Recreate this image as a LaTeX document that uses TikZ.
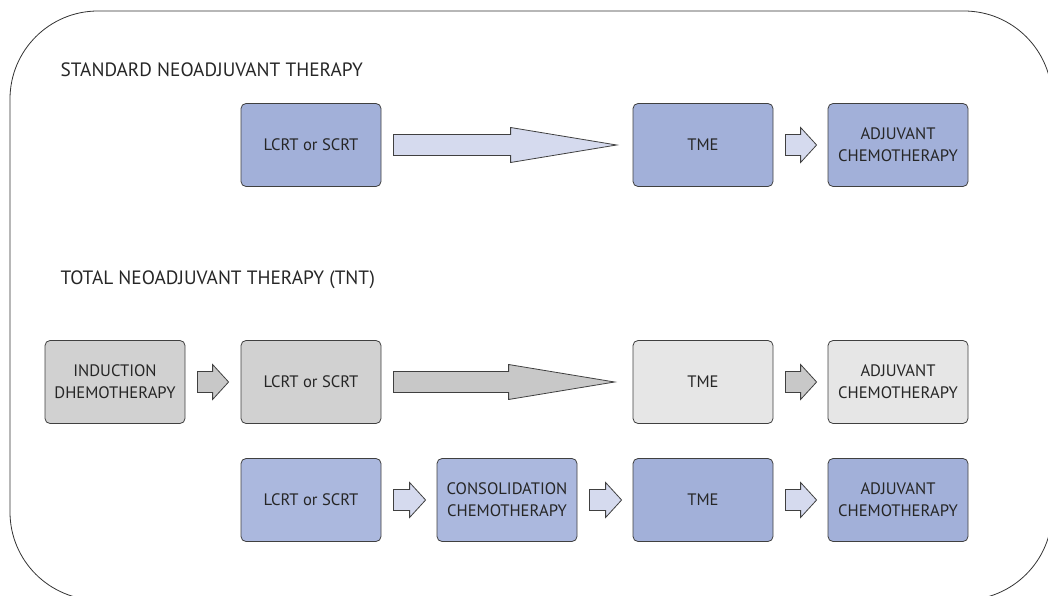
\documentclass[tikz,border=0pt]{standalone}
\usepackage{fontspec}
\setmainfont{PT Sans}
\usepackage{tikz}
\usetikzlibrary{positioning}
\usetikzlibrary{calc}

\definecolor{boxblue}{HTML}{A2B0D9}
\definecolor{boxbluelt}{HTML}{ABB8DE}
\definecolor{arrblue}{HTML}{D5DAEE}
\definecolor{boxgray}{HTML}{D1D1D1}
\definecolor{boxgraylt}{HTML}{E6E6E6}
\definecolor{arrgray}{HTML}{C8C8C8}

% block arrow: style, from node, to node, tip gap, head length
\newcommand{\blockarrow}[5]{%
  \draw[#1] ($(#2.east)+(12,-10.5)$) -- ($(#3.west)+(-#4-#5,-10.5)$) -- ++(0,-7)
    -- ($(#3.west)+(-#4,0)$) -- ($(#3.west)+(-#4-#5,17.5)$) -- ++(0,-7)
    -- ($(#2.east)+(12,10.5)$) -- cycle;
}

\begin{document}
\begin{tikzpicture}[x=1pt,y=-1pt,
  box/.style={draw=black!75,line width=0.8pt,rounded corners=5pt,
    minimum width=140pt,minimum height=83pt,inner sep=0pt,align=center,
    text=black!85,font=\fontsize{16.6}{22}\selectfont},
  title/.style={anchor=west,text=black!85,font=\fontsize{19.3}{22}\selectfont},
  arr/.style={draw=black!75,line width=0.8pt,line join=miter}]

\useasboundingbox (0,0) rectangle (1048,596);
\clip (0,0) rectangle (1048,596);

% frame
\draw[black!80,line width=0.8pt,rounded corners=88pt] (10,11) rectangle (1052,600);

\node[title] (std) at (57,70) {STANDARD NEOADJUVANT THERAPY};
\node[title] (tnt) at (57,280) {TOTAL NEOADJUVANT THERAPY (TNT)};

% standard
\node[box,fill=boxblue] (lcrtA) at (311,145) {LCRT or SCRT};
\node[box,fill=boxblue] (tmeA) at (703,145) {TME};
\node[box,fill=boxblue] (adjA) at (898,145) {ADJUVANT\\CHEMOTHERAPY};

\blockarrow{arr,fill=arrblue}{lcrtA}{tmeA}{16}{106}
\blockarrow{arr,fill=arrblue}{tmeA}{adjA}{11}{16}

% tnt, induction
\node[box,fill=boxgray] (ind) at (115,382) {INDUCTION\\DHEMOTHERAPY};
\node[box,fill=boxgray] (lcrtB) at (311,382) {LCRT or SCRT};
\node[box,fill=boxgraylt] (tmeB) at (703,382) {TME};
\node[box,fill=boxgraylt] (adjB) at (898,382) {ADJUVANT\\CHEMOTHERAPY};

\blockarrow{arr,fill=arrgray}{ind}{lcrtB}{12}{16}
\blockarrow{arr,fill=arrgray}{lcrtB}{tmeB}{18}{106}
\blockarrow{arr,fill=arrgray}{tmeB}{adjB}{11}{16}

% tnt, consolidation
\node[box,fill=boxbluelt] (lcrtC) at (311,500) {LCRT or SCRT};
\node[box,fill=boxbluelt] (cons) at (507,500) {CONSOLIDATION\\CHEMOTHERAPY};
\node[box,fill=boxblue] (tmeC) at (703,500) {TME};
\node[box,fill=boxblue] (adjC) at (898,500) {ADJUVANT\\CHEMOTHERAPY};

\foreach \a/\b in {lcrtC/cons,cons/tmeC,tmeC/adjC}{
  \blockarrow{arr,fill=arrblue}{\a}{\b}{11}{16}
}

\end{tikzpicture}
\end{document}
